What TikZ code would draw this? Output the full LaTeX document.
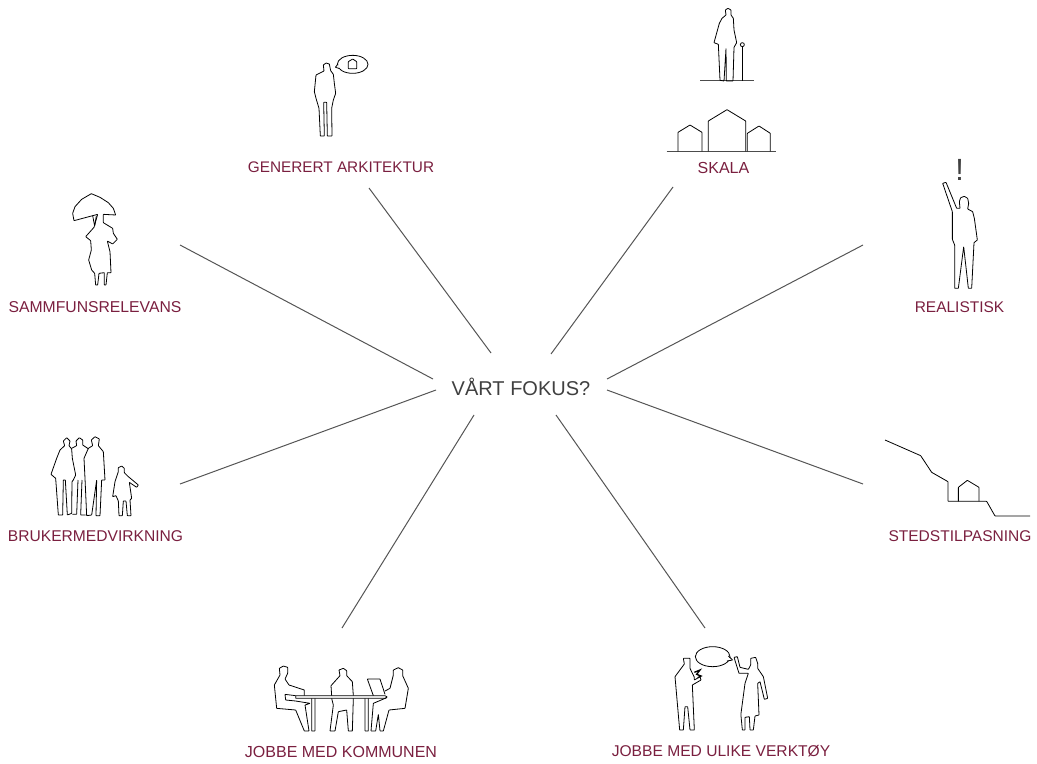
\documentclass[tikz,border=0pt]{standalone}
\usepackage{fontspec}
\setmainfont{Liberation Sans}
\definecolor{labelred}{HTML}{7A1F3F}
\definecolor{spoke}{HTML}{555555}
\tikzset{
  px/.style={x=0.75pt,y=-0.75pt},
  zoomed/.style={x=0.25pt,y=-0.25pt},
  fig/.style={draw=black,line width=0.6pt,line join=round,rounded corners=0.3pt},
  ground/.style={draw=black!70,line width=0.75pt},
  lab/.style={text=labelred,font=\fontsize{#1}{14}\selectfont,inner sep=0pt},
  hub/.style={text=black!75,font=\fontsize{15}{18}\selectfont,inner sep=0pt},
  spokeline/.style={draw=spoke,line width=0.75pt}
}
\begin{document}
\begin{tikzpicture}[px]
\useasboundingbox (0,0) rectangle (1037,763);
% labels
\node[hub] (hub) at (521,387) {VÅRT FOKUS?};
\node[lab=11.5] (generert) at (341,167.5) {GENERERT ARKITEKTUR};
\node[lab=12] (skala) at (723.5,167.5) {SKALA};
\node[lab=11.6] (realistisk) at (959.5,307.5) {REALISTISK};
\node[lab=11.8] (samfunn) at (95,307.5) {SAMMFUNSRELEVANS};
\node[lab=11.7] (bruker) at (95.5,536.5) {BRUKERMEDVIRKNING};
\node[lab=11.65] (sted) at (960,536.5) {STEDSTILPASNING};
\node[lab=12] (kommunen) at (341,751.5) {JOBBE MED KOMMUNEN};
\node[lab=11.7] (verktoy) at (721,751.5) {JOBBE MED ULIKE VERKTØY};
% spoke ends
\coordinate (g1) at (369,188); \coordinate (g2) at (491,353);
\coordinate (s1) at (673,187); \coordinate (s2) at (551,354);
\coordinate (a1) at (180,245); \coordinate (a2) at (433,379);
\coordinate (r1) at (863,245); \coordinate (r2) at (607,379);
\coordinate (b1) at (180,484); \coordinate (b2) at (436,390);
\coordinate (t1) at (863,484); \coordinate (t2) at (607,390);
\coordinate (k1) at (342,628); \coordinate (k2) at (474,415);
\coordinate (v1) at (705,628); \coordinate (v2) at (556,415);
\foreach \p/\q in {g1/g2,s1/s2,a1/a2,r1/r2,b1/b2,t1/t2,k1/k2,v1/v2}
  \draw[spokeline] (\p) -- (\q);
% SKALA figure
\begin{scope}[shift={(650,0)},zoomed]
\draw[ground] (150,243) -- (312,243);
\draw[ground] (50,454) -- (378,454);
\draw[fig] (228,45) -- (226,30) -- (234,25) -- (243,30) -- (243,45) -- (250,55) -- (252,90) -- (260,128) -- (252,142) -- (249,243) -- (229,243) -- (228,145) -- (222,243) -- (210,241) -- (205,133) -- (192,128) -- (208,70) -- (216,55) -- cycle;
\draw[fig] (277,243) -- (277,140);
\draw[fig] (277,134) circle[radius=6];
\draw[fig] (84,454) -- (84,397) -- (120,375) -- (156,397) -- (156,454);
\draw[fig] (175,454) -- (175,363) -- (231,329) -- (287,363) -- (287,454);
\draw[fig] (292,454) -- (292,400) -- (327,378) -- (361,400) -- (361,454);
\end{scope}
% GENERERT figure
\begin{scope}[shift={(280,40)},zoomed]
\draw[fig] (132,93) -- (130,75) -- (138,69) -- (148,72) -- (152,92) -- (160,103) -- (163,130) -- (167,160) -- (160,180) -- (155,205) -- (156,288) -- (142,288) -- (140,187) -- (131,187) -- (133,288) -- (121,288) -- (117,205) -- (108,175) -- (103,155) -- (108,105) -- cycle;
\draw[fig] (218,73) ellipse[x radius=46,y radius=27];
\fill[white] (175,72) -- (166,82) -- (177,84) -- cycle;
\draw[fig] (174,72) -- (166,82) -- (177,85);
\draw[fig] (205,86) -- (205,65) -- (218,57) -- (230,65) -- (230,86) -- cycle;
\end{scope}
% SAMMFUNSRELEVANS figure
\begin{scope}[shift={(50,180)},zoomed]
\draw[fig] (72,122) -- (68,100) -- (75,80) -- (95,58) -- (124,41) -- (150,52) -- (175,68) -- (190,85) -- (197,105) -- (160,103) -- (160,128) -- (188,145) -- (190,160) -- (202,178) -- (188,192) -- (172,183) -- (180,215) -- (183,278) -- (172,278) -- (168,315) -- (163,315) -- (163,278) -- (147,280) -- (143,315) -- (137,315) -- (134,280) -- (125,270) -- (116,240) -- (124,210) -- (122,182) -- (107,170) -- (132,142) -- (143,103) -- cycle;
\draw[fig] (128,107) -- (134,138) -- (139,108);
\end{scope}
% REALISTISK figure
\begin{scope}[shift={(920,150)},zoomed]
\node[inner sep=0pt,text=black!75,font=\fontsize{23}{26}\selectfont] (excl) at (119,61) {!};
\draw[fig] (68,100) -- (78,97) -- (110,175) -- (120,175) -- (118,155) -- (122,143) -- (133,139) -- (143,145) -- (146,160) -- (143,177) -- (158,185) -- (163,205) -- (172,270) -- (162,278) -- (155,415) -- (145,415) -- (131,290) -- (115,415) -- (104,415) -- (104,285) -- (97,268) -- (97,185) -- cycle;
\end{scope}
% BRUKERMEDVIRKNING figure
\begin{scope}[shift={(40,425)},zoomed]
\draw[fig] (74,62) -- (70,48) -- (80,38) -- (90,48) -- (87,62) -- (95,72) -- (97,100) -- (107,150) -- (100,165) -- (96,170) -- (95,265) -- (82,270) -- (76,165) -- (70,165) -- (68,270) -- (55,270) -- (47,160) -- (33,148) -- (50,100) -- (60,75) -- cycle;
\draw[fig] (95,70) -- (110,62) -- (108,48) -- (118,38) -- (128,45) -- (128,60) -- (146,72);
\draw[fig] (114,165) -- (110,268) -- (97,268);
\draw[fig] (126,165) -- (122,270) -- (137,270);
\draw[fig] (158,62) -- (154,45) -- (165,35) -- (178,42) -- (175,62) -- (190,80) -- (195,165) -- (185,165) -- (180,272) -- (168,272) -- (170,165) -- (155,270) -- (140,272) -- (135,160) -- (132,100) -- (145,70) -- cycle;
\draw[fig] (235,140) -- (235,128) -- (245,123) -- (253,130) -- (253,143) -- (265,155) -- (295,180) -- (290,187) -- (268,172) -- (275,220) -- (270,225) -- (273,272) -- (262,272) -- (258,228) -- (250,228) -- (247,272) -- (237,272) -- (235,228) -- (228,212) -- (218,215) -- (225,170) -- cycle;
\end{scope}
% STEDSTILPASNING figure
\begin{scope}[shift={(880,430)},zoomed]
\draw[fig] (15,30) -- (122,77) -- (155,127) -- (204,155) -- (204,214) -- (320,214) -- (345,258) -- (450,258);
\draw[fig] (235,214) -- (235,172) -- (262,151) -- (297,172) -- (297,214);
\end{scope}
% KOMMUNEN figure
\begin{scope}[shift={(265,655)},zoomed]
\draw[fig] (92,122) -- (360,122) -- (367,126) -- (360,130) -- (92,130) -- cycle;
\draw[fig] (140,130) -- (140,228) -- (150,228) -- (150,130);
\draw[fig] (300,130) -- (300,228) -- (310,228) -- (310,130);
\draw[fig] (92,122) -- (60,118) -- (62,135) -- (92,138) -- (135,145) -- (120,150) -- (132,228) -- (118,228) -- (92,165) -- (35,160) -- (28,90) -- (45,60) -- (43,40) -- (55,33) -- (68,37) -- (68,55) -- (60,72) -- (72,90) -- (118,105) -- (118,122);
\draw[fig] (200,122) -- (198,92) -- (225,62) -- (222,45) -- (235,40) -- (245,47) -- (245,62) -- (262,80) -- (265,122);
\draw[fig] (200,130) -- (205,150) -- (195,228) -- (210,228) -- (220,170) -- (245,165) -- (250,228) -- (262,228) -- (265,130);
\draw[fig] (325,122) -- (307,72) -- (345,72) -- (360,118);
\draw[fig] (360,108) -- (375,100) -- (385,60) -- (385,45) -- (400,38) -- (413,45) -- (413,62) -- (430,100) -- (420,160) -- (372,165) -- (355,228) -- (345,228) -- (340,178) -- (332,228) -- (318,228) -- (325,145) -- (365,128);
\end{scope}
% VERKTOY figure
\begin{scope}[shift={(665,640)},zoomed]
\draw[fig] (143,50) ellipse[x radius=52,y radius=30];
\fill[white] (188,50) -- (203,60) -- (186,62) -- cycle;
\draw[fig] (190,48) -- (203,60) -- (186,63);
\draw[fig] (58,72) -- (55,55) -- (75,55) -- (75,85) -- (88,112) -- (88,120) -- (105,110) -- (108,120) -- (82,135) -- (88,270) -- (75,270) -- (68,200) -- (60,200) -- (55,270) -- (44,270) -- (30,110) -- cycle;
\draw[black,line width=1pt] (88,97) -- (105,90) -- (95,103) -- (108,108) -- (98,113);
\draw[fig] (207,52) -- (217,50) -- (225,82) -- (250,88) -- (257,75) -- (257,55) -- (272,52) -- (278,70) -- (278,85) -- (295,110) -- (308,175) -- (298,178) -- (285,125) -- (278,130) -- (282,225) -- (270,228) -- (265,270) -- (255,270) -- (253,230) -- (240,232) -- (240,270) -- (232,270) -- (228,228) -- (228,220) -- (240,130) -- (250,100) -- (222,100) -- cycle;
\end{scope}
\end{tikzpicture}
\end{document}
